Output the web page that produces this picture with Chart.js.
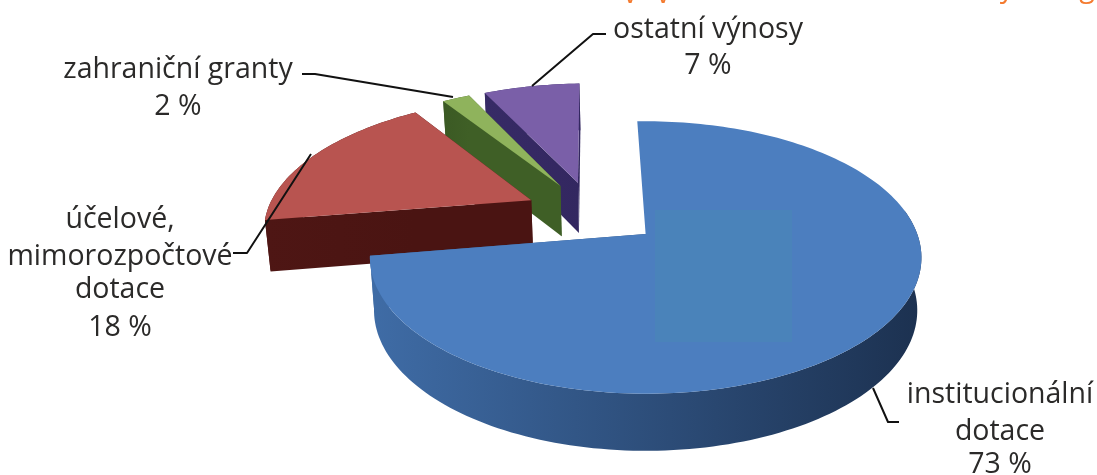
<!DOCTYPE html>
<html>
<head>
<meta charset="utf-8">
<style>html,body{margin:0;padding:0;background:#fff}canvas{display:block}</style>
<script src="https://cdn.jsdelivr.net/npm/chart.js@4/dist/chart.umd.min.js"></script>
</head>
<body>
<canvas id="c" width="1097" height="475"></canvas>
<script>
const categories = ["institucionální dotace", "účelové, mimorozpočtové dotace", "zahraniční granty", "ostatní výnosy"];
const shares = [73, 18, 2, 7];
const faceColors = ["#4c7ebf", "#b85450", "#8fb35c", "#7a5fa8"];
const wallLeftColors = ["#3f6ca6", "#4e1614", "#3b5a24", "#372b66"];
const wallRightColors = ["#1c3150", "#4a1412", "#3f5f26", "#332760"];
const labelBlocks = [
  {lines: ["institucionální", "dotace", "73 %"], x: 1000, ys: [403, 440, 473]},
  {lines: ["účelové,", "mimorozpočtové", "dotace", "18 %"], x: 120, ys: [228, 265, 298, 336]},
  {lines: ["zahraniční granty", "2 %"], x: 178, ys: [78, 115]},
  {lines: ["ostatní výnosy", "7 %"], x: 708, ys: [38, 74]}
];
const leaders = [
  [[873,388],[888,422],[899,422]],
  [[311,154],[247,253],[233,253]],
  [[302,74],[315,74],[453,97]],
  [[532,86],[593,34],[606,34]]
];
const headingScraps = [
  {t: "v", x: 630, y: 3}, {t: "v", x: 663, y: 3}, {t: "y", x: 1007, y: -3}, {t: "g", x: 1087, y: -3}
];

const EXPLODE = 0.26, P = 0.172, K = 272, A = 132.5, X0 = 644, Y0 = 235, U0 = 0.195, V0 = -0.172, DEPTH = 52, INSET = 0.985;
function project(u, v) {
  const U = u - U0, V = v - V0, d = 1 + P * V;
  return {x: X0 + K * U / d, y: Y0 - A * V / d, d};
}
function lower(p) {
  return {x: X0 + (p.x - X0) * INSET, y: p.y + DEPTH / Math.sqrt(p.d)};
}
function polygon(ctx, list) {
  ctx.beginPath();
  list.forEach((p, j) => j ? ctx.lineTo(p.x, p.y) : ctx.moveTo(p.x, p.y));
  ctx.closePath();
  ctx.fill();
}

class Pie3D extends Chart.DoughnutController {
  draw() {
    const ctx = this.chart.ctx, arcs = this.getMeta().data;
    for (let i = arcs.length - 1; i >= 0; i--) {
      const a = arcs[i].getProps(["startAngle", "endAngle"], true);
      const mid = (a.startAngle + a.endAngle) / 2;
      const ox = Math.cos(mid) * EXPLODE, oy = -Math.sin(mid) * EXPLODE;
      const apex = project(ox, oy);
      const rim = [], strip = [];
      const n = Math.max(4, Math.ceil((a.endAngle - a.startAngle) * 40));
      for (let j = 0; j <= n; j++) {
        const t = a.startAngle + (a.endAngle - a.startAngle) * j / n;
        const p = project(ox + Math.cos(t), oy - Math.sin(t));
        rim.push(p);
        if (i > 0 || Math.sin(t) > -0.2) strip.push(p);
      }
      const xs = rim.map(p => p.x);
      const g = ctx.createLinearGradient(Math.min(...xs), 0, Math.max(...xs), 0);
      g.addColorStop(0, wallLeftColors[i]);
      g.addColorStop(1, wallRightColors[i]);
      ctx.save();
      ctx.fillStyle = g;
      const first = rim[0], last = rim[rim.length - 1];
      if (i > 0) polygon(ctx, [apex, first, lower(first), lower(apex)]);
      polygon(ctx, [apex, last, lower(last), lower(apex)]);
      polygon(ctx, strip.concat(strip.map(lower).reverse()));
      ctx.fillStyle = faceColors[i];
      polygon(ctx, [apex].concat(rim));
      ctx.restore();
    }
  }
}
Pie3D.id = "pie3d";
Pie3D.defaults = Chart.DoughnutController.defaults;
Pie3D.overrides = Chart.DoughnutController.overrides;
Chart.register(Pie3D);

const labelsPlugin = {
  id: "calloutLabels",
  afterDraw(chart) {
    const ctx = chart.ctx;
    ctx.save();
    ctx.fillStyle = "rgba(72,140,180,0.4)";
    ctx.fillRect(655, 210, 137, 132);
    ctx.strokeStyle = "#111"; ctx.lineWidth = 2; ctx.lineJoin = "round";
    leaders.forEach(l => {
      ctx.beginPath();
      l.forEach((p, j) => j ? ctx.lineTo(p[0], p[1]) : ctx.moveTo(p[0], p[1]));
      ctx.stroke();
    });
    ctx.fillStyle = "#2b2a29";
    ctx.font = '28.5px "Open Sans"';
    ctx.textAlign = "center"; ctx.textBaseline = "alphabetic";
    labelBlocks.forEach(b => b.lines.forEach((t, j) => ctx.fillText(t, b.x, b.ys[j])));
    ctx.fillStyle = "#f47b30";
    headingScraps.forEach(h => ctx.fillText(h.t, h.x, h.y));
    ctx.restore();
  }
};

new Chart(document.getElementById("c"), {
  type: "pie3d",
  data: {labels: categories, datasets: [{data: shares, backgroundColor: faceColors}]},
  options: {
    responsive: false, animation: false, rotation: -2,
    plugins: {legend: {display: false}, tooltip: {enabled: false}, title: {display: false}}
  },
  plugins: [labelsPlugin]
});
</script>
</body>
</html>
